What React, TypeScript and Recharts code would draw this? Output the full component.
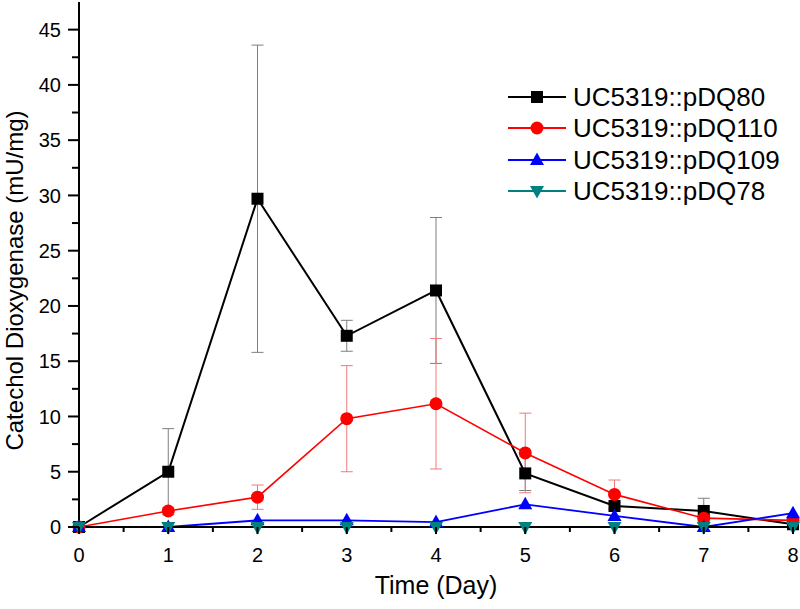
import { LineChart, Line, XAxis, YAxis, ErrorBar, Legend } from 'recharts';

// day 0..8
const days = [0, 1, 2, 3, 4, 5, 6, 7, 8];
const pDQ80 = [0, 5.0, 29.7, 17.3, 21.4, 4.85, 1.9, 1.45, 0.25];
const pDQ80Err = [0, 3.9, 13.9, 1.4, 6.6, 1.55, 0.3, 1.15, 0];
const pDQ110 = [0, 1.45, 2.7, 9.8, 11.15, 6.7, 2.95, 0.8, 0.6];
const pDQ110Err = [0, 0.3, 1.1, 4.8, 5.9, 3.6, 1.3, 0.3, 0];
const pDQ109 = [0, 0, 0.6, 0.6, 0.45, 2.05, 1.0, 0, 1.25];
const pDQ78 = [0, 0, 0, 0, 0, 0, 0, 0, 0];

const xTicks = [0, 0.5, 1, 1.5, 2, 2.5, 3, 3.5, 4, 4.5, 5, 5.5, 6, 6.5, 7, 7.5, 8];
const yTicks = [0, 2.5, 5, 7.5, 10, 12.5, 15, 17.5, 20, 22.5, 25, 27.5, 30, 32.5, 35, 37.5, 40, 42.5, 45];

const seriesNames = ['UC5319::pDQ80', 'UC5319::pDQ110', 'UC5319::pDQ109', 'UC5319::pDQ78'];
const seriesColors = ['#000000', '#ff0000', '#0000ff', '#008080'];

const data = days.map((d, i) => ({
  day: d,
  a: pDQ80[i],
  aErr: pDQ80Err[i],
  b: pDQ110[i],
  bErr: pDQ110Err[i],
  c: pDQ109[i],
  d: pDQ78[i],
}));

const FONT = '"Liberation Sans", Arial, sans-serif';

function marker(kind: number, cx: number, cy: number, color: string, key?: any) {
  if (kind === 0) return <rect key={key} x={cx - 6} y={cy - 6} width={12} height={12} fill={color} />;
  if (kind === 1) return <circle key={key} cx={cx} cy={cy} r={6.5} fill={color} />;
  if (kind === 2)
    return <path key={key} d={`M${cx},${cy - 7.5} L${cx + 7},${cy + 5} L${cx - 7},${cy + 5} Z`} fill={color} />;
  return <path key={key} d={`M${cx},${cy + 7.5} L${cx + 7},${cy - 5} L${cx - 7},${cy - 5} Z`} fill={color} />;
}

const dotFor = (kind: number) => (p: any) => {
  if (p.cx == null || p.cy == null) return <g key={p.index} />;
  return marker(kind, p.cx, p.cy, seriesColors[kind], p.index);
};

const YTick = (props: any) => {
  const { x, y, payload } = props;
  const major = payload.value % 5 === 0;
  return (
    <g>
      <line x1={x} x2={x - (major ? 11 : 7)} y1={y} y2={y} stroke="#000" strokeWidth={2} />
      {major && (
        <text x={x - 18} y={y} dy="0.36em" textAnchor="end" fontSize={20} fontFamily={FONT} fill="#000">
          {payload.value}
        </text>
      )}
    </g>
  );
};

const XTick = (props: any) => {
  const { x, y, payload } = props;
  const major = Number.isInteger(payload.value);
  return (
    <g>
      <line x1={x} x2={x} y1={y} y2={y + (major ? 7 : 5)} stroke="#000" strokeWidth={2} />
      {major && (
        <text x={x} y={y + 35} textAnchor="middle" fontSize={20} fontFamily={FONT} fill="#000">
          {payload.value}
        </text>
      )}
    </g>
  );
};

const renderLegend = () => (
  <div style={{ fontFamily: FONT, fontSize: 26, color: '#000' }}>
    {seriesNames.map((name, i) => (
      <div key={name} style={{ display: 'flex', alignItems: 'center', height: 31.5 }}>
        <svg width={66} height={20} style={{ flex: 'none' }}>
          <line x1={1} x2={59} y1={10} y2={10} stroke={seriesColors[i]} strokeWidth={2} />
          {marker(i, 30, 10, seriesColors[i])}
        </svg>
        <span style={{ lineHeight: '26px', whiteSpace: 'nowrap' }}>{name}</span>
      </div>
    ))}
  </div>
);

export default function App() {
  return (
    <div style={{ position: 'absolute', left: 0, top: 0, width: 800, height: 609, background: '#fff' }}>
      <LineChart width={800} height={609} data={data} margin={{ top: 2, right: 7, bottom: 0, left: 0 }}>
        <XAxis
          dataKey="day"
          type="number"
          domain={[0, 8]}
          ticks={xTicks}
          interval={0}
          tick={XTick}
          tickLine={false}
          tickSize={0}
          tickMargin={0}
          height={82}
          axisLine={{ stroke: '#000', strokeWidth: 2 }}
          label={(p: any) => (
            <text
              x={p.viewBox.x + p.viewBox.width / 2}
              y={p.viewBox.y + 67}
              textAnchor="middle"
              fontSize={25}
              fontFamily={FONT}
              fill="#000"
            >
              Time (Day)
            </text>
          )}
        />
        <YAxis
          type="number"
          domain={[0, 47.5]}
          ticks={yTicks}
          interval={0}
          tick={YTick}
          tickLine={false}
          tickSize={0}
          tickMargin={0}
          width={79}
          axisLine={{ stroke: '#000', strokeWidth: 2 }}
          label={(p: any) => (
            <text
              transform={`translate(${p.viewBox.x + 23}, ${p.viewBox.y + p.viewBox.height / 2 + 16}) rotate(-90)`}
              textAnchor="middle"
              fontSize={24}
              fontFamily={FONT}
              fill="#000"
            >
              Catechol Dioxygenase (mU/mg)
            </text>
          )}
        />
        <Legend
          content={renderLegend}
          layout="vertical"
          align="center"
          verticalAlign="middle"
          wrapperStyle={{ left: 507, top: 81, width: 290, height: 130 }}
        />
        <Line
          name={seriesNames[0]}
          dataKey="a"
          stroke={seriesColors[0]}
          strokeWidth={2}
          dot={dotFor(0)}
          activeDot={false}
          isAnimationActive={false}
        >
          <ErrorBar dataKey="aErr" direction="y" width={6} stroke="#7f7f7f" strokeWidth={1} />
        </Line>
        <Line
          name={seriesNames[1]}
          dataKey="b"
          stroke={seriesColors[1]}
          strokeWidth={1.6}
          dot={dotFor(1)}
          activeDot={false}
          isAnimationActive={false}
        >
          <ErrorBar dataKey="bErr" direction="y" width={6} stroke="#f07a7a" strokeWidth={1} />
        </Line>
        <Line
          name={seriesNames[2]}
          dataKey="c"
          stroke={seriesColors[2]}
          strokeWidth={1.8}
          dot={dotFor(2)}
          activeDot={false}
          isAnimationActive={false}
        />
        <Line
          name={seriesNames[3]}
          dataKey="d"
          stroke={seriesColors[3]}
          strokeWidth={1.8}
          dot={dotFor(3)}
          activeDot={false}
          isAnimationActive={false}
        />
      </LineChart>
    </div>
  );
}
